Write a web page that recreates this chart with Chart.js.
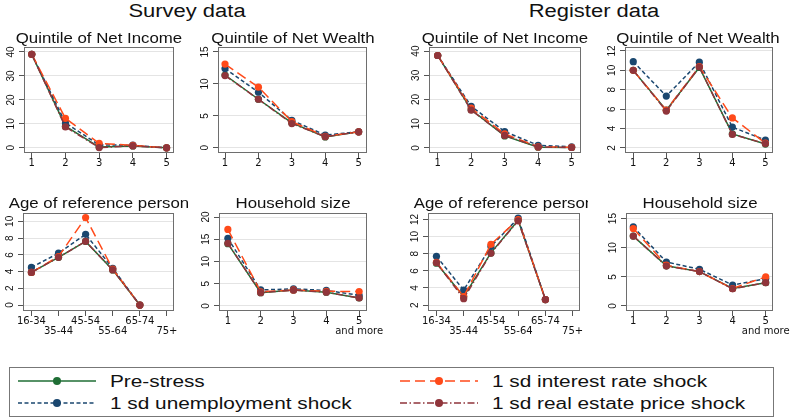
<!DOCTYPE html>
<html>
<head>
<meta charset="utf-8">
<script src="https://cdn.jsdelivr.net/npm/chart.js@4.4.1/dist/chart.umd.min.js"></script>
<style>
html,body{margin:0;padding:0;background:#fff;overflow:hidden;}
#page{position:relative;width:790px;height:417px;overflow:hidden;background:#fff;font-family:"Liberation Sans",Arial,Helvetica,sans-serif;color:#111;}
#page canvas{position:absolute;}
.clip{position:absolute;overflow:hidden;}
.ttl{position:absolute;top:0;white-space:nowrap;transform-origin:50% 50%;}
.leg{position:absolute;white-space:nowrap;font-size:16px;line-height:16px;transform-origin:0 50%;transform:scaleX(1.3);}
</style>
</head>
<body>
<div id="page"></div>
<script>
// ---------- categories / tick labels ----------
const quintiles = ['1', '2', '3', '4', '5'];
const ageGroups = ['16-34', '35-44', '45-54', '55-64', '65-74', '75+'];
const hhSizes = [['1'], ['2'], ['3'], ['4'], ['5', 'and more']];
const seriesNames = ['Pre-stress', '1 sd unemployment shock', '1 sd interest rate shock', '1 sd real estate price shock'];

const incomeTicks = [0, 10, 20, 30, 40];
const svWealthTicks = [0, 5, 10, 15];
const rgWealthTicks = [2, 4, 6, 8, 10, 12];
const svAgeTicks = [0, 2, 4, 6, 8, 10];
const svHhTicks = [0, 5, 10, 15, 20];
const rgAgeTicks = [2, 4, 6, 8, 10, 12];
const rgHhTicks = [0, 5, 10, 15];

// ---------- Survey data ----------
const svIncPre   = [39.0, 9.0, 0.3, 0.8, 0.0];
const svIncUnemp = [39.0, 10.4, 1.2, 1.1, 0.0];
const svIncRate  = [39.0, 12.3, 1.9, 1.0, 0.0];
const svIncRE    = [39.0, 8.7, 0.1, 0.8, 0.0];

const svWeaPre   = [11.4, 7.6, 3.9, 1.7, 2.5];
const svWeaUnemp = [12.4, 8.7, 4.3, 2.0, 2.5];
const svWeaRate  = [13.1, 9.5, 4.1, 1.8, 2.5];
const svWeaRE    = [11.3, 7.6, 3.8, 1.75, 2.5];

const svAgePre   = [3.9, 5.7, 7.6, 4.2, 0.0, null];
const svAgeUnemp = [4.5, 6.2, 8.45, 4.4, 0.0, null];
const svAgeRate  = [3.9, 5.8, 10.45, 4.3, 0.0, null];
const svAgeRE    = [3.9, 5.7, 7.6, 4.2, 0.0, null];

const svHhPre    = [14.0, 3.0, 3.6, 3.1, 1.8];
const svHhUnemp  = [15.2, 3.6, 3.85, 3.5, 2.4];
const svHhRate   = [17.2, 3.2, 3.6, 3.3, 3.25];
const svHhRE     = [14.1, 3.0, 3.55, 3.1, 1.8];

// ---------- Register data ----------
const rgIncPre   = [38.2, 15.8, 5.0, 0.3, 0.2];
const rgIncUnemp = [38.2, 17.2, 6.8, 1.1, 0.5];
const rgIncRate  = [38.2, 16.5, 5.8, 0.5, 0.3];
const rgIncRE    = [38.2, 15.6, 5.2, 0.4, 0.2];

const rgWeaPre   = [10.0, 5.9, 10.3, 3.45, 2.4];
const rgWeaUnemp = [10.9, 7.35, 10.85, 4.15, 2.8];
const rgWeaRate  = [10.0, 5.9, 10.4, 5.1, 2.5];
const rgWeaRE    = [10.0, 5.8, 10.35, 3.4, 2.45];

const rgAgePre   = [6.9, 3.0, 8.1, 11.9, 2.65, null];
const rgAgeUnemp = [7.7, 3.75, 8.85, 12.15, 2.65, null];
const rgAgeRate  = [7.0, 3.0, 9.1, 12.0, 2.65, null];
const rgAgeRE    = [6.95, 2.75, 8.05, 11.85, 2.65, null];

const rgHhPre    = [12.0, 6.9, 5.9, 3.0, 4.0];
const rgHhUnemp  = [13.6, 7.55, 6.3, 3.6, 4.7];
const rgHhRate   = [13.3, 7.0, 5.9, 3.0, 5.0];
const rgHhRE     = [12.0, 6.85, 5.9, 2.95, 4.0];

// ---------- styles ----------
const colors = ['#1f6e35', '#1a476f', '#ff4a1a', '#90353b'];
const dashes = [[], [4, 2.5], [10, 5], [7, 2.5, 1.5, 2.5]];

const quintLabel = i => quintiles[i];
const ageLabel = i => (i % 2 === 0 ? [ageGroups[i]] : ['', ageGroups[i]]);
const hhLabel = i => hhSizes[i];

const panels = [
  {title:'Quintile of Net Income', frame:[24,47,174,153], xr:[0.77,5.22], yr:[-2.16,42.07], yTicks:incomeTicks, n:5, label:quintLabel,
   series:[svIncPre, svIncUnemp, svIncRate, svIncRE], tc:99, clipR:null},
  {title:'Quintile of Net Wealth', frame:[218,47,367,153], xr:[0.79,5.25], yr:[-0.81,15.78], yTicks:svWealthTicks, n:5, label:quintLabel,
   series:[svWeaPre, svWeaUnemp, svWeaRate, svWeaRE], tc:292.5, clipR:null},
  {title:'Quintile of Net Income', frame:[429,47,581,153], xr:[0.74,5.28], yr:[-2.07,41.7], yTicks:incomeTicks, n:5, label:quintLabel,
   series:[rgIncPre, rgIncUnemp, rgIncRate, rgIncRE], tc:505, clipR:null},
  {title:'Quintile of Net Wealth', frame:[625,47,773,153], xr:[0.75,5.23], yr:[1.48,12.41], yTicks:rgWealthTicks, n:5, label:quintLabel,
   series:[rgWeaPre, rgWeaUnemp, rgWeaRate, rgWeaRE], tc:698, clipR:null},
  {title:'Age of reference person', frame:[23,213,174,311], xr:[0.69,6.26], yr:[-0.71,11.0], yTicks:svAgeTicks, n:6, label:ageLabel,
   series:[svAgePre, svAgeUnemp, svAgeRate, svAgeRE], tc:98.5, clipR:188},
  {title:'Household size', frame:[219,213,367,311], xr:[0.73,5.24], yr:[-1.13,20.9], yTicks:svHhTicks, n:5, label:hhLabel,
   series:[svHhPre, svHhUnemp, svHhRate, svHhRE], tc:293, clipR:null},
  {title:'Age of reference person', frame:[428,213,580,311], xr:[0.69,6.27], yr:[1.31,12.76], yTicks:rgAgeTicks, n:6, label:ageLabel,
   series:[rgAgePre, rgAgeUnemp, rgAgeRate, rgAgeRE], tc:504, clipR:588},
  {title:'Household size', frame:[626,213,773,311], xr:[0.78,5.22], yr:[-0.86,15.96], yTicks:rgHhTicks, n:5, label:hhLabel,
   series:[rgHhPre, rgHhUnemp, rgHhRate, rgHhRE], tc:699.5, clipR:null}
];

const page = document.getElementById('page');

const framePlugin = {
  id: 'frame',
  beforeDatasetsDraw(c) {
    const a = c.chartArea, ctx = c.ctx;
    ctx.save();
    ctx.strokeStyle = '#6e6e6e';
    ctx.lineWidth = 1;
    const l = Math.round(a.left), t = Math.round(a.top), r = Math.round(a.right), b = Math.round(a.bottom);
    ctx.strokeRect(l + 0.5, t + 0.5, r - l - 1, b - t - 1);
    ctx.restore();
  }
};

function addTitle(text, cx, top, size, scale, clipR) {
  const clip = document.createElement('div');
  clip.className = 'clip';
  const cl = clipR ? cx - 150 : cx - 200;
  const cr = clipR ? clipR : cx + 200;
  clip.style.left = cl + 'px';
  clip.style.width = (cr - cl) + 'px';
  clip.style.top = top + 'px';
  clip.style.height = (size + 6) + 'px';
  const s = document.createElement('div');
  s.className = 'ttl';
  s.textContent = text;
  s.style.fontSize = size + 'px';
  s.style.lineHeight = size + 'px';
  s.style.left = (cx - cl) + 'px';
  s.style.transform = 'translateX(-50%) scaleX(' + scale + ')';
  clip.appendChild(s);
  page.appendChild(clip);
}

function makeChart(p) {
  const [fl, ft, fr, fb] = p.frame;
  const LY = 22, PT = 8, PR = 30, HX = 32;
  const w = fr - fl + LY + PR, h = fb - ft + PT + HX;
  const cv = document.createElement('canvas');
  cv.width = w; cv.height = h;
  cv.style.left = (fl - LY) + 'px';
  cv.style.top = (ft - PT) + 'px';
  cv.style.width = w + 'px';
  cv.style.height = h + 'px';
  page.appendChild(cv);
  const xs = [];
  for (let i = 1; i <= p.n; i++) xs.push(i);
  new Chart(cv, {
    type: 'line',
    data: {
      datasets: p.series.map((vals, k) => ({
        label: seriesNames[k],
        data: vals.map((v, i) => ({x: i + 1, y: v})),
        borderColor: colors[k],
        backgroundColor: colors[k],
        pointBackgroundColor: colors[k],
        pointBorderColor: colors[k],
        borderWidth: 1.5,
        borderDash: dashes[k],
        pointRadius: 3.6,
        pointHoverRadius: 3.6,
        pointBorderWidth: 0,
        order: 4 - k,
        clip: false,
        spanGaps: false,
        tension: 0,
        fill: false
      }))
    },
    options: {
      responsive: false,
      animation: false,
      devicePixelRatio: 1,
      events: [],
      layout: {padding: {left: 0, top: PT, right: PR, bottom: 0}},
      plugins: {legend: {display: false}, tooltip: {enabled: false}, title: {display: false}},
      scales: {
        x: {
          type: 'linear', min: p.xr[0], max: p.xr[1],
          afterBuildTicks: s => { s.ticks = xs.map(v => ({value: v})); },
          afterFit: s => { s.height = HX; },
          grid: {drawOnChartArea: false, drawTicks: true, tickLength: 5, tickColor: '#555', color: '#555'},
          border: {display: false},
          ticks: {autoSkip: false, minRotation: 0, maxRotation: 0, padding: 1, color: '#111',
                  font: {family: '"DejaVu Sans", sans-serif', size: 10, lineHeight: 0.95},
                  callback: (v, i) => p.label(i)}
        },
        y: {
          type: 'linear', min: p.yr[0], max: p.yr[1],
          afterBuildTicks: s => { s.ticks = p.yTicks.map(v => ({value: v})); },
          afterFit: s => { s.width = LY; },
          grid: {color: '#e4e4e4', tickColor: '#555', tickLength: 5, drawTicks: true},
          border: {display: false},
          ticks: {minRotation: 90, maxRotation: 90, crossAlign: 'center', padding: 2, color: '#111',
                  font: {family: '"Liberation Sans", Arial, sans-serif', size: 10},
                  callback: v => String(v)}
        }
      }
    },
    plugins: [framePlugin]
  });
}

panels.forEach(makeChart);

// big titles
addTitle('Survey data', 186.5, 2, 18, 1.22, null);
addTitle('Register data', 594, 2, 18, 1.22, null);
// panel titles
panels.forEach((p, i) => {
  addTitle(p.title, p.tc, i < 4 ? 31 : 196, 14.5, 1.16, p.clipR);
});

// legend
const box = document.createElement('div');
box.style.cssText = 'position:absolute;left:9px;top:367px;width:763px;height:48px;border:1px solid #777;';
page.appendChild(box);
const legPos = [[18, 381], [18, 403], [400, 381], [400, 403]];
const svgNS = 'http://www.w3.org/2000/svg';
const svg = document.createElementNS(svgNS, 'svg');
svg.setAttribute('width', '790'); svg.setAttribute('height', '417');
svg.style.cssText = 'position:absolute;left:0;top:0;';
legPos.forEach(([x, y], k) => {
  const ln = document.createElementNS(svgNS, 'line');
  ln.setAttribute('x1', x); ln.setAttribute('x2', x + 78);
  ln.setAttribute('y1', y); ln.setAttribute('y2', y);
  ln.setAttribute('stroke', colors[k]); ln.setAttribute('stroke-width', '1.6');
  if (dashes[k].length) ln.setAttribute('stroke-dasharray', dashes[k].join(' '));
  svg.appendChild(ln);
  const c = document.createElementNS(svgNS, 'circle');
  c.setAttribute('cx', x + 39); c.setAttribute('cy', y); c.setAttribute('r', '4');
  c.setAttribute('fill', colors[k]);
  svg.appendChild(c);
  const t = document.createElement('div');
  t.className = 'leg';
  t.textContent = seriesNames[k];
  t.style.left = (x + 92) + 'px';
  t.style.top = (y - 7.5) + 'px';
  page.appendChild(t);
});
page.appendChild(svg);
</script>
</body>
</html>
